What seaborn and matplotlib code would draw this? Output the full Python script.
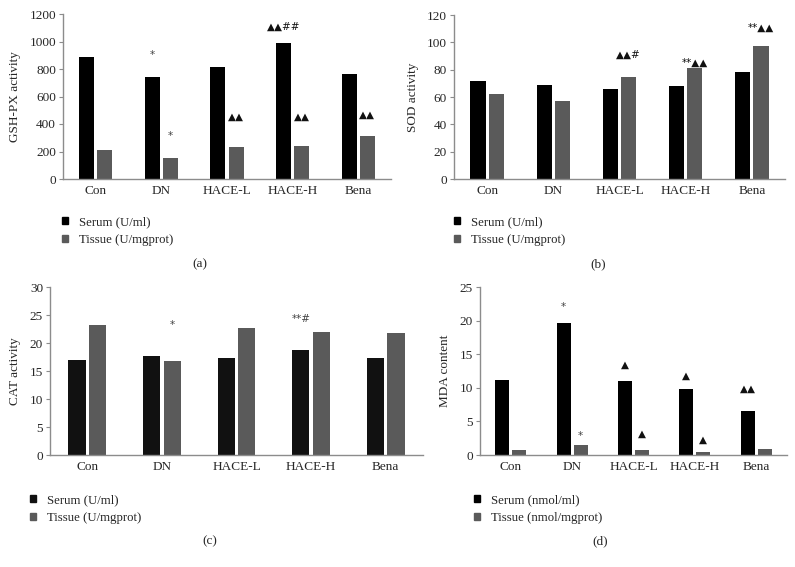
import numpy as np
import pandas as pd
import matplotlib
matplotlib.use("Agg")
import matplotlib.pyplot as plt
import seaborn as sns

sns.set_style("white")
plt.rcParams['font.family'] = ['Liberation Serif', 'DejaVu Sans']

categories = ["Con", "DN", "HACE-L", "HACE-H", "Bena"]
series = ["Serum", "Tissue"]

gsh_serum = [890, 740, 815, 990, 765]
gsh_tissue = [213, 152, 235, 242, 310]
sod_serum = [72, 68.5, 65.5, 68, 78]
sod_tissue = [62.5, 57, 75, 81, 97.5]
cat_serum = [17.0, 17.6, 17.4, 18.7, 17.3]
cat_tissue = [23.2, 16.8, 22.6, 22.0, 21.7]
mda_serum = [11.2, 19.6, 11.0, 9.8, 6.6]
mda_tissue = [0.8, 1.5, 0.7, 0.5, 0.9]

legend_a = ["Serum (U/ml)", "Tissue (U/mgprot)"]
legend_b = ["Serum (U/ml)", "Tissue (U/mgprot)"]
legend_c = ["Serum (U/ml)", "Tissue (U/mgprot)"]
legend_d = ["Serum (nmol/ml)", "Tissue (nmol/mgprot)"]

ylabels = ["GSH-PX activity", "SOD activity", "CAT activity", "MDA content"]
captions = ["(a)", "(b)", "(c)", "(d)"]
yticks_list = [np.arange(0, 1201, 200), np.arange(0, 121, 20),
               np.arange(0, 31, 5), np.arange(0, 26, 5)]

# annotations: (category index, series index, text, label height in data units)
ann_a = [(1, 0, "*", 905), (1, 1, "*", 315), (2, 1, "▲▲", 450),
         (3, 0, "▲▲##", 1110), (3, 1, "▲▲", 450), (4, 1, "▲▲", 470)]
ann_b = [(2, 1, "▲▲#", 91), (3, 1, "**▲▲", 85), (4, 1, "**▲▲", 111)]
ann_c = [(1, 1, "*", 23.3), (3, 0, "**#", 24.3)]
ann_d = [(1, 0, "*", 22.0), (1, 1, "*", 2.9), (2, 0, "▲", 13.4), (2, 1, "▲", 3.1),
         (3, 0, "▲", 11.8), (3, 1, "▲", 2.2), (4, 0, "▲▲", 9.8)]

W, H = 795, 567
fig = plt.figure(figsize=(W / 100, H / 100), dpi=100)

def px_axes(l, r, t, b):
    return fig.add_axes([l / W, 1 - b / H, (r - l) / W, (b - t) / H])

panels = [
    dict(box=(63, 391, 14, 179), s=gsh_serum, t=gsh_tissue, leg=legend_a, ann=ann_a,
         legxy=(62, 231), cap=(200, 264), serum_col="#000000"),
    dict(box=(454, 785, 15, 179), s=sod_serum, t=sod_tissue, leg=legend_b, ann=ann_b,
         legxy=(454, 231), cap=(598, 264), serum_col="#000000"),
    dict(box=(50, 423, 287, 455), s=cat_serum, t=cat_tissue, leg=legend_c, ann=ann_c,
         legxy=(30, 509), cap=(210, 541), serum_col="#111111"),
    dict(box=(480, 787, 287, 455), s=mda_serum, t=mda_tissue, leg=legend_d, ann=ann_d,
         legxy=(474, 509), cap=(600, 541), serum_col="#000000"),
]

tissue_col = "#5a5a5a"
axis_col = "#8c8c8c"

for i, p in enumerate(panels):
    ax = px_axes(*p["box"])
    df = pd.DataFrame({
        "group": categories * 2,
        "series": [series[0]] * 5 + [series[1]] * 5,
        "value": list(p["s"]) + list(p["t"]),
    })
    sns.barplot(data=df, x="group", y="value", hue="series", order=categories,
                hue_order=series, palette=[p["serum_col"], tissue_col],
                width=0.554, gap=0.17, dodge=True, legend=False,
                saturation=1, ax=ax, edgecolor="none")
    ax.set_xlim(-0.5, 4.5)
    yt = yticks_list[i]
    ax.set_ylim(0, yt[-1])
    ax.set_yticks(yt)
    ax.set_yticklabels([str(v) for v in yt])
    ax.set_xlabel("")
    ax.set_ylabel(ylabels[i], fontsize=9.5, labelpad=6)
    for side in ["top", "right"]:
        ax.spines[side].set_visible(False)
    for side in ["left", "bottom"]:
        ax.spines[side].set_color(axis_col)
        ax.spines[side].set_linewidth(1.0)
    ax.tick_params(axis="y", which="major", direction="out", length=3, width=0.8,
                   color=axis_col, labelsize=9.5, pad=2, left=True)
    ax.tick_params(axis="x", length=0, labelsize=9.5, pad=4)
    ax.grid(False)

    # annotations
    for (ci, si, txt, yv) in p["ann"]:
        bar = ax.containers[si][ci]
        xc = bar.get_x() + bar.get_width() / 2
        ax.text(xc, yv, txt, ha="center", va="center", fontsize=7.5,
                family=["DejaVu Sans"],
                color="#111111" if "▲" in txt else "#444444")

    # legend
    handles = [plt.Rectangle((0, 0), 1, 1, color=p["serum_col"]),
               plt.Rectangle((0, 0), 1, 1, color=tissue_col)]
    lx, ly = p["legxy"]
    fig.legend(handles, p["leg"], loc="center left",
               bbox_to_anchor=(lx / W, 1 - ly / H), frameon=False,
               fontsize=9.2, handlelength=0.5, handleheight=0.5,
               handletextpad=0.8, labelspacing=0.5, borderpad=0, borderaxespad=0)

    cx, cy = p["cap"]
    fig.text(cx / W, 1 - cy / H, captions[i], ha="center", va="center", fontsize=9.5)

fig.savefig("out.png", dpi=100)
